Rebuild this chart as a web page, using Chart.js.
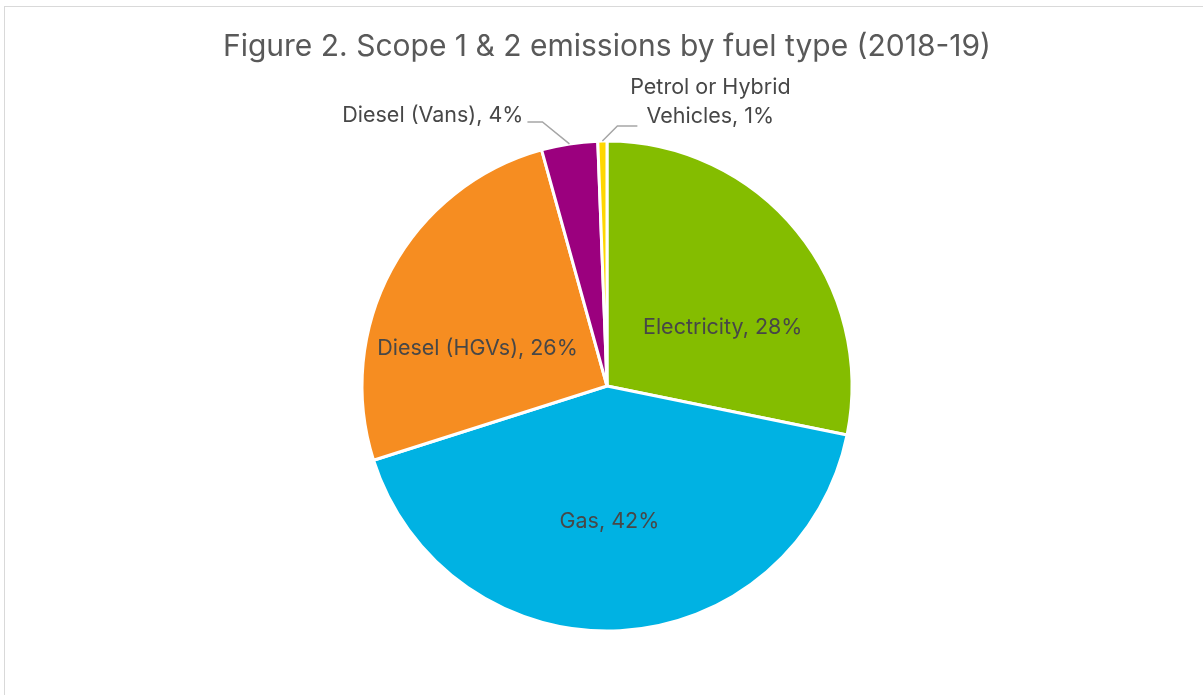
<!DOCTYPE html>
<html>
<head>
<meta charset="utf-8">
<script src="https://cdn.jsdelivr.net/npm/chart.js@4"></script>
<style>
  html, body { margin: 0; padding: 0; background: #fff; overflow: hidden; }
  #wrap { position: relative; width: 1203px; height: 695px; }
  #frame { position: absolute; left: 4px; top: 6px; width: 1210px; height: 700px;
           border-left: 1px solid #d9d9d9; border-top: 1px solid #d9d9d9; }
  canvas { position: absolute; left: 0; top: 0; }
</style>
</head>
<body>
<div id="wrap">
  <div id="frame"></div>
  <canvas id="pieChart" width="1203" height="695"></canvas>
</div>
<script>
const categories = ["Electricity", "Gas", "Diesel (HGVs)", "Diesel (Vans)", "Petrol or Hybrid Vehicles"];
const shares = [28.2, 41.9, 25.6, 3.7, 0.6];
const shareLabels = ["28%", "42%", "26%", "4%", "1%"];
const colours = ["#84bd00", "#00b2e3", "#f68d21", "#9b007e", "#ffd700"];

const FONT = "Inter, 'Noto Sans', sans-serif";

// where each data label sits: inside ones by angle (deg clockwise from top) and radius fraction,
// outside ones with a leader line from the slice edge
const labelPlacement = [
  { inside: true, angle: 63, r: 0.53 },
  { inside: true, angle: 179, r: 0.555 },
  { inside: true, angle: 286, r: 0.55 },
  { inside: false, elbow: [-27, -22], end: [-42, -22], text: [-46, -28], align: "right", lines: ["Diesel (Vans), 4%"] },
  { inside: false, elbow: [15, -15], end: [35, -15], text: [108, -54], align: "center", lines: ["Petrol or Hybrid", "Vehicles, 1%"] }
];

const labelPlugin = {
  id: "pieLabels",
  afterDraw(chart) {
    const ctx = chart.ctx;
    const meta = chart.getDatasetMeta(0);
    ctx.save();
    // title
    ctx.fillStyle = "#595959";
    ctx.font = "30px " + FONT;
    ctx.textAlign = "center";
    ctx.textBaseline = "middle";
    ctx.fillText("Figure 2. Scope 1 & 2 emissions by fuel type (2018-19)", 607, 47);

    ctx.font = "21.5px " + FONT;
    ctx.fillStyle = "#474747";
    meta.data.forEach((arc, i) => {
      const p = labelPlacement[i];
      const { x, y, outerRadius, startAngle, endAngle } = arc.getProps(["x", "y", "outerRadius", "startAngle", "endAngle"], true);
      if (p.inside) {
        const a = (p.angle - 90) * Math.PI / 180;
        ctx.textAlign = "center";
        ctx.fillText(categories[i] + ", " + shareLabels[i], x + Math.cos(a) * outerRadius * p.r, y + Math.sin(a) * outerRadius * p.r);
      } else {
        const mid = (startAngle + endAngle) / 2;
        const sx = x + Math.cos(mid) * outerRadius;
        const sy = y + Math.sin(mid) * outerRadius;
        ctx.strokeStyle = "#a6a6a6";
        ctx.lineWidth = 1.5;
        ctx.beginPath();
        ctx.moveTo(sx, sy);
        ctx.lineTo(sx + p.elbow[0], sy + p.elbow[1]);
        ctx.lineTo(sx + p.end[0], sy + p.end[1]);
        ctx.stroke();
        ctx.textAlign = p.align;
        p.lines.forEach((ln, k) => {
          ctx.fillText(ln, sx + p.text[0], sy + p.text[1] + k * 29);
        });
      }
    });
    ctx.restore();
  }
};

new Chart(document.getElementById("pieChart").getContext("2d"), {
  type: "pie",
  data: {
    labels: categories,
    datasets: [{
      data: shares,
      backgroundColor: colours,
      borderColor: "#ffffff",
      borderWidth: 3,
      radius: 245
    }]
  },
  options: {
    responsive: false,
    animation: false,
    layout: { padding: { left: 11, right: 0, top: 87, bottom: 10 } },
    plugins: {
      legend: { display: false },
      tooltip: { enabled: false },
      title: { display: false }
    }
  },
  plugins: [labelPlugin]
});
</script>
</body>
</html>
